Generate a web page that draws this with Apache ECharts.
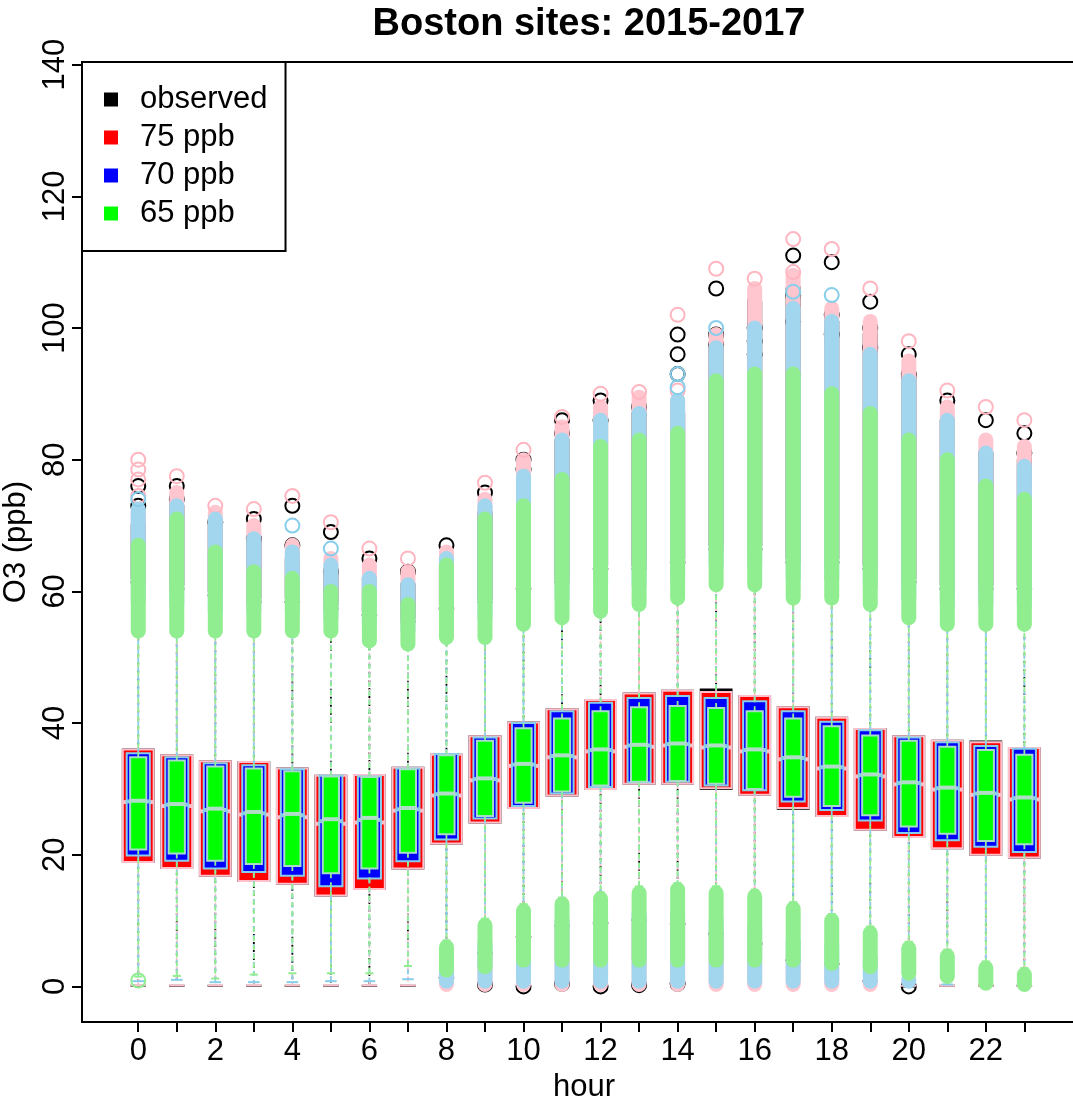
<!DOCTYPE html>
<html>
<head>
<meta charset="utf-8">
<title>Boston sites: 2015-2017</title>
<script src="https://cdn.jsdelivr.net/npm/echarts@6/dist/echarts.min.js"></script>
<style>
  html, body { margin: 0; padding: 0; background: #ffffff; }
  #chart { width: 1073px; height: 1099px; }
</style>
</head>
<body>
<div id="chart"></div>
<script>
// ---- data: hourly O3 (ppb) distributions, Boston sites 2015-2017 ----
const hours = [0,1,2,3,4,5,6,7,8,9,10,11,12,13,14,15,16,17,18,19,20,21,22,23];
const xTickValues = [0,1,2,3,4,5,6,7,8,9,10,11,12,13,14,15,16,17,18,19,20,21,22,23];
const xLabelValues = [0,2,4,6,8,10,12,14,16,18,20,22];
const yTickValues = [0,20,40,60,80,100,120,140];

// observed
const obsQ1  = [18.9,18.0,16.8,16.0,15.6,13.8,14.8,17.9,21.7,24.9,27.1,29.0,30.0,30.8,30.8,30.0,29.1,27.0,25.9,23.8,22.7,21.0,20.0,19.6];
const obsMed = [28.0,27.5,26.7,26.2,25.8,24.8,25.0,26.8,29.1,31.4,33.6,34.9,35.8,36.5,36.7,36.4,35.8,34.6,33.2,32.0,30.8,30.0,29.2,28.5];
const obsQ3  = [36.0,35.1,34.2,34.1,33.1,32.0,32.1,33.2,35.2,38.0,40.1,42.1,43.5,44.5,44.9,45.1,44.1,42.4,40.8,39.1,38.0,37.3,37.2,36.2];
const obsWhiskerLo = [0.1,0.1,0.1,0.1,0.1,0.1,0.1,0.1,1.3,5.1,7.5,9.2,9.6,10.1,9.5,8.0,6.5,4.0,3.4,0.8,0.0,0.1,0.1,0.1];
const obsWhiskerHi = [61.4,60.4,59.4,58.4,58.4,57.4,56.4,55.4,57.4,58.4,60.4,61.4,63.4,63.4,64.4,66.4,66.4,64.4,64.4,63.4,61.4,60.4,60.4,60.4];
const obsBandLo = [62,61,60,59,59,58,57,56,58,59,61,62,64,64,65,67,67,65,65,64,62,61,61,61];
const obsBandHi = [70,73,70,68,65,63,62,61,64,72,78,83,86,87,87,97,104,106,101,99,93,86,81,80];
const obsLowerBand = [];
const obsOutliers = [[0,76],[0,73],[1,76],[1,74],[2,70.5],[3,71],[3,68],[4,73],[4,67],[5,69],[5,63],[6,65],[7,63],[8,67],[9,75],
  [10,80],[10,78.5],[11,86],[11,84],[12,89],[12,86],[13,88],[14,99],[14,96],[14,93],[15,106],[15,99],[15,97.5],[16,100],[16,98],[16,96],
  [17,111],[17,105],[17,101],[18,110],[18,102],[18,99],[19,104],[19,100],[19,97],[20,96],[20,93],[21,89],[22,86],[23,84],[23,81],
  [9,0.3],[10,0],[11,0.4],[12,0],[13,0.2],[14,0.4],[20,0]];

// 75 ppb scenario
const p75Q1  = [18.9,18.0,16.8,16.0,15.6,13.8,14.8,17.9,21.7,24.9,27.1,29.0,30.0,30.8,30.8,30.1,29.1,27.1,25.9,23.8,22.7,21.0,20.0,19.6];
const p75Med = [28.0,27.4,26.6,26.1,25.7,24.7,24.9,26.7,29.0,31.3,33.5,34.8,35.7,36.4,36.6,36.3,35.7,34.5,33.1,31.9,30.7,29.9,29.1,28.4];
const p75Q3  = [36.0,35.1,34.2,34.1,33.1,32.0,32.1,33.2,35.2,38.0,40.1,42.1,43.5,44.5,44.9,44.7,44.1,42.4,40.8,39.1,38.0,37.3,37.1,36.2];
const p75WhiskerLo = [0.15,0.15,0.15,0.15,0.15,0.15,0.15,0.15,1.4,5.2,7.6,9.3,9.7,10.2,9.6,8.2,6.6,4.1,3.5,0.9,0.1,0.1,0.1,0.1];
const p75WhiskerHi = [61.4,60.4,59.4,58.4,58.4,57.4,56.4,55.4,57.4,58.4,60.4,61.4,63.4,63.4,64.4,66.4,66.4,64.4,64.4,63.4,61.4,60.4,60.4,60.4];
const p75BandLo = [62,61,60,59,59,58,57,56,58,59,61,62,64,64,65,67,67,65,65,64,62,61,61,61];
const p75BandHi = [72,75,72,70,67,65,64,63,66,74,80,85,88,89.5,89,99,106,108,103,101,95,88,83,82];
const p75LowerBand = [[8,0.3,1.0],[9,0.3,4.8],[10,0.3,7.1],[11,0.3,8.8],[12,0.3,9.2],[13,0.3,9.7],[14,0.3,9.1],[15,0.3,7.7],[16,0.3,6.1],[17,0.3,3.6],[18,0.3,3.0],[19,0.3,0.6]];
const p75Outliers = [[0,80],[0,78.5],[0,77],[0,74.5],[1,77.5],[2,73],[3,72.5],[4,74.5],[5,70.5],[6,66.5],[7,65],[9,76.5],[10,81.5],[11,86.5],
  [12,90],[13,90.3],[14,102],[14,90.5],[15,109],[16,107.5],[17,113.5],[17,108.5],[18,112],[19,106],[20,98],[21,90.5],[22,88],[23,86]];

// 70 ppb scenario
const p70Q1  = [19.9,19.1,17.9,17.4,16.8,15.2,16.4,19.0,22.3,25.5,27.4,29.3,30.3,31.0,31.1,30.5,29.8,28.1,26.8,25.2,23.3,22.2,21.2,20.4];
const p70Med = [28.1,27.6,26.8,26.3,26.0,25.1,25.3,26.9,29.2,31.5,33.7,35.0,35.9,36.6,36.8,36.5,35.9,34.7,33.3,32.1,30.9,30.1,29.3,28.6];
const p70Q3  = [35.4,34.8,33.9,33.6,33.0,32.0,31.9,33.1,35.3,37.8,40.0,41.8,43.1,43.8,44.1,43.8,43.3,41.8,40.2,38.9,37.8,37.1,36.5,36.1];
const p70WhiskerLo = [0.8,1.0,0.65,0.65,0.65,0.8,0.8,1.1,2.8,7.0,8.5,10.5,11.1,11.8,11.6,10.5,9.5,7.5,6.7,4.6,1.5,0.3,0.3,0.3];
const p70WhiskerHi = [57.9,57.4,56.4,56.4,56.4,55.4,54.4,53.4,55.4,55.4,57.4,58.4,60.4,60.4,61.4,63.4,63.4,61.4,61.4,60.4,58.4,57.4,57.4,57.4];
const p70BandLo = [58.5,58,57,57,57,56,55,54,56,56,58,59,61,61,62,64,64,62,62,61,59,58,58,58];
const p70BandHi = [72.5,73,71,68,66,64,62,61,65,73,77.5,83,86,87,89,97,100,103,101,96,92,86,81,79];
const p70LowerBand = [[8,0.8,2.3],[9,0.8,6.5],[10,0.8,8],[11,0.8,10],[12,0.8,10.5],[13,0.8,11.2],[14,0.8,11],[15,0.8,10],[16,0.8,9],[17,0.8,7],[18,0.8,6.2],[19,0.8,4.1],[20,0.8,1.0]];
const p70Outliers = [[0,74],[4,70],[5,66.5],[14,91],[14,93],[15,100],[17,105.5],[18,105]];

// 65 ppb scenario
const p65Q1  = [20.8,20.2,19.1,18.6,18.3,17.2,17.9,20.3,23.1,25.9,27.9,29.6,30.5,31.1,31.2,30.8,30.0,28.8,27.4,26.0,24.3,23.2,22.1,21.6];
const p65Med = [28.2,27.7,27.0,26.5,26.2,25.4,25.6,27.1,29.3,31.6,33.8,35.1,36.0,36.7,36.9,36.6,36.0,34.8,33.4,32.2,31.0,30.2,29.4,28.7];
const p65Q3  = [34.8,34.3,33.4,33.1,32.7,31.9,31.8,33.0,35.1,37.3,39.2,40.7,41.8,42.4,42.6,42.3,41.8,40.7,39.5,38.1,37.3,36.4,35.9,35.2];
const p65WhiskerLo = [1.5,1.6,1.2,1.8,2.0,2.0,2.0,3.1,7.0,10.3,12.5,13.5,14.3,15.2,15.7,15.2,14.7,12.8,11.0,9.1,6.8,5.6,3.8,2.8];
const p65WhiskerHi = [53.4,53.4,53.4,53.4,53.4,53.4,51.9,51.4,52.4,52.4,54.4,55.4,56.4,57.4,58.4,60.4,60.4,58.4,58.4,57.4,55.4,54.4,54.4,54.4];
const p65BandLo = [54,54,54,54,54,54,52.5,52,53,53,55,56,57,58,59,61,61,59,59,58,56,55,55,55];
const p65BandHi = [67,71,66,63,62,60,60,58,64,71,73,77,82,83,84,92,93,93,90,87,83,80,76,74];
const p65LowerBand = [[8,2.5,6.0],[9,3,9.3],[10,4,11.5],[11,4,12.5],[12,4,13.3],[13,4,14.2],[14,4,14.7],[15,4,14.2],[16,4,13.7],[17,4,11.8],[18,3.5,10],[19,3,8.1],[20,2,5.8],[21,1.5,4.6],[22,0.5,2.8],[23,0.3,1.8]];
const p65Outliers = [[0,0.9]];

// ---- styling ----
const FONT = '"Liberation Sans", Arial, Helvetica, sans-serif';

const groups = [
  { name: 'observed', key: '#000000', fill: '#000000', border: '#000000', whisker: '#000000', median: '#000000', ring: '#000000', band: '#000000',
    wex: 0.8, dash: [2, 6], dashOffset: 3,
    q1: obsQ1, med: obsMed, q3: obsQ3, wlo: obsWhiskerLo, whi: obsWhiskerHi, blo: obsBandLo, bhi: obsBandHi, lower: obsLowerBand, out: obsOutliers },
  { name: '75 ppb', key: '#ff0000', fill: '#ff0000', border: '#ffc0cb', whisker: '#ffc0cb', median: '#ffc0cb', ring: '#ffb6c1', band: '#ffc6d0',
    wex: 0.8, dash: [5, 4], dashOffset: 0,
    q1: p75Q1, med: p75Med, q3: p75Q3, wlo: p75WhiskerLo, whi: p75WhiskerHi, blo: p75BandLo, bhi: p75BandHi, lower: p75LowerBand, out: p75Outliers },
  { name: '70 ppb', key: '#0000ff', fill: '#0000ff', border: '#87ceeb', whisker: '#87ceeb', median: '#87ceeb', ring: '#87ceeb', band: '#a2d5ee',
    wex: 0.6, dash: [5, 4], dashOffset: 0,
    q1: p70Q1, med: p70Med, q3: p70Q3, wlo: p70WhiskerLo, whi: p70WhiskerHi, blo: p70BandLo, bhi: p70BandHi, lower: p70LowerBand, out: p70Outliers },
  { name: '65 ppb', key: '#00ff00', fill: '#00ff00', border: '#a8dcc8', whisker: '#90ee90', median: '#b0dcc8', ring: '#90ee90', band: '#90ee90',
    wex: 0.42, dash: [5, 4], dashOffset: 0,
    q1: p65Q1, med: p65Med, q3: p65Q3, wlo: p65WhiskerLo, whi: p65WhiskerHi, blo: p65BandLo, bhi: p65BandHi, lower: p65LowerBand, out: p65Outliers }
];

function boxRenderer(g) {
  return function (params, api) {
    const h = api.value(0);
    const lo = api.value(1), q1 = api.value(2), md = api.value(3), q3 = api.value(4), hi = api.value(5);
    const cx = api.coord([h, 0])[0];
    const half = api.size([g.wex, 0])[0] / 2;
    const Y = v => api.coord([h, v])[1];
    const dash = { stroke: g.whisker, lineWidth: 1.8, lineDash: g.dash, lineDashOffset: g.dashOffset, fill: null };
    const staple = { stroke: g.whisker, lineWidth: 2, fill: null };
    return {
      type: 'group',
      children: [
        { type: 'line', shape: { x1: cx, y1: Y(q3), x2: cx, y2: Y(hi) }, style: dash },
        { type: 'line', shape: { x1: cx, y1: Y(q1), x2: cx, y2: Y(lo) }, style: dash },
        { type: 'line', shape: { x1: cx - half / 2, y1: Y(hi), x2: cx + half / 2, y2: Y(hi) }, style: staple },
        { type: 'line', shape: { x1: cx - half / 2, y1: Y(lo), x2: cx + half / 2, y2: Y(lo) }, style: staple },
        { type: 'rect', shape: { x: cx - half, y: Y(q3), width: 2 * half, height: Y(q1) - Y(q3) },
          style: { fill: g.fill, stroke: g.border, lineWidth: 2 } },
        { type: 'line', shape: { x1: cx - half, y1: Y(md), x2: cx + half, y2: Y(md) },
          style: { stroke: g.median, lineWidth: 4, fill: null } }
      ]
    };
  };
}

// dense runs of outlier circles render as one solid column, circle-wide
function bandRenderer(g) {
  return function (params, api) {
    const h = api.value(0);
    const p1 = api.coord([h, api.value(1)]);
    const p2 = api.coord([h, api.value(2)]);
    return {
      type: 'line',
      shape: { x1: p1[0], y1: p1[1], x2: p2[0], y2: p2[1] },
      style: { stroke: g.band, lineWidth: 15, lineCap: 'round', fill: null }
    };
  };
}

const series = [];
let z = 2;
groups.forEach(g => {
  series.push({
    type: 'custom', name: g.name + ' box', silent: true, z: z++,
    renderItem: boxRenderer(g),
    encode: { x: 0, y: [1, 2, 3, 4, 5] },
    data: hours.map((h, i) => [h, g.wlo[i], g.q1[i], g.med[i], g.q3[i], g.whi[i]])
  });
  series.push({
    type: 'custom', name: g.name + ' bands', silent: true, z: z++,
    renderItem: bandRenderer(g),
    encode: { x: 0, y: [1, 2] },
    data: hours.map((h, i) => [h, g.blo[i], g.bhi[i]]).concat(g.lower)
  });
  series.push({
    type: 'scatter', name: g.name, silent: true, z: z++,
    symbol: 'circle', symbolSize: 14,
    itemStyle: { color: 'rgba(0,0,0,0)', borderColor: g.ring, borderWidth: 2, opacity: 1 },
    emphasis: { disabled: true },
    data: g.out
  });
});

const chart = echarts.init(document.getElementById('chart'), null, { renderer: 'canvas' });
chart.setOption({
  animation: false,
  backgroundColor: '#ffffff',
  title: {
    text: 'Boston sites: 2015-2017',
    left: 584, top: 1, textAlign: 'center',
    textStyle: { fontFamily: FONT, fontSize: 38, fontWeight: 'bold', color: '#000' }
  },
  legend: {
    orient: 'vertical', left: 82, top: 62,
    padding: [22, 18, 22, 22],
    itemWidth: 14, itemHeight: 14, itemGap: 7,
    borderColor: '#000', borderWidth: 2, backgroundColor: '#ffffff',
    selectedMode: false, z: 50,
    textStyle: { fontFamily: FONT, fontSize: 31, color: '#000', padding: [0, 0, 0, 17] },
    data: groups.map(g => ({ name: g.name, icon: 'rect', itemStyle: { color: g.key, borderWidth: 0 } }))
  },
  grid: { left: 82, top: 62, right: -13, bottom: 77, outerBoundsMode: 'none', containLabel: false,
          show: true, borderColor: '#000', borderWidth: 2, backgroundColor: 'transparent' },
  xAxis: {
    type: 'value', min: -1.46, max: 24.6,
    name: 'hour', nameLocation: 'middle', nameGap: 32,
    nameTextStyle: { fontFamily: FONT, fontSize: 31, color: '#000' },
    splitLine: { show: false },
    axisLine: { show: true, onZero: false, lineStyle: { color: '#000', width: 2 } },
    axisTick: { show: true, customValues: xTickValues, length: 10, lineStyle: { color: '#000', width: 2 } },
    axisLabel: { customValues: xLabelValues, fontFamily: FONT, fontSize: 31, color: '#000', margin: 14 }
  },
  yAxis: {
    type: 'value', min: -5.4, max: 140.4,
    name: 'O3 (ppb)', nameLocation: 'middle', nameGap: 40, nameRotate: 90,
    nameTextStyle: { fontFamily: FONT, fontSize: 31, color: '#000' },
    splitLine: { show: false },
    axisLine: { show: true, onZero: false, lineStyle: { color: '#000', width: 2 } },
    axisTick: { show: true, customValues: yTickValues, length: 10, lineStyle: { color: '#000', width: 2 } },
    axisLabel: { customValues: yTickValues, rotate: 90, fontFamily: FONT, fontSize: 31, color: '#000', margin: 11 }
  },
  series: series
});
</script>
</body>
</html>
